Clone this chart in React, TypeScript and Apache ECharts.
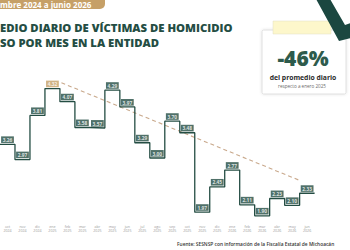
import React, { useEffect, useRef } from "react";
import * as echarts from "echarts";

const months = [
  "oct\n2024", "nov\n2024", "dic\n2024", "ene\n2025", "feb\n2025", "mar\n2025", "abr\n2025",
  "may\n2025", "jun\n2025", "jul\n2025", "ago\n2025", "sep\n2025", "oct\n2025", "nov\n2025",
  "dic\n2025", "ene\n2026", "feb\n2026", "mar\n2026", "abr\n2026", "may\n2026", "jun\n2026",
];
const values = [3.26, 2.97, 3.81, 4.32, 4.07, 3.58, 3.57, 4.29, 3.97, 3.29, 3.0, 3.7, 3.48, 1.97, 2.45, 2.77, 2.11, 1.9, 2.23, 2.1, 2.33];
const highlightIndex = 3; // enero 2025
const trendEndIndex = 20; // junio 2026

const GREEN = "#244d43";
const TAN = "#c6a067";

export default function App() {
  const ref = useRef<HTMLDivElement>(null);
  useEffect(() => {
    if (!ref.current) return;
    const chart = echarts.init(ref.current, null, { renderer: "svg" });
    const stepData = values.flatMap((v, i) => [[i, v], [i + 1, v]]);
    const trendData = [
      [highlightIndex + 1.1, values[highlightIndex] + 0.11],
      [trendEndIndex + 0.03, values[trendEndIndex] + 0.24],
    ];
    const font = "'Open Sans', 'DejaVu Sans', sans-serif";
    chart.setOption({
      animation: false,
      backgroundColor: "#ffffff",
      grid: { left: -1.5, width: 316.1, top: 79.1, height: 142, containLabel: false },
      xAxis: [
        {
          type: "category",
          data: months,
          boundaryGap: true,
          axisLine: { show: false },
          axisTick: { show: false },
          axisLabel: { fontSize: 3.6, color: "#9a9a9a", margin: 3, lineHeight: 4, fontFamily: font },
        },
        { type: "value", min: 0, max: months.length, show: false },
      ],
      yAxis: { type: "value", min: 1.8, max: 4.5, show: false, splitLine: { show: false } },
      series: [
        {
          type: "line",
          xAxisIndex: 1,
          data: trendData,
          symbol: "none",
          lineStyle: { color: "#c9a98c", width: 1.1, type: [4, 3] },
          z: 1,
        },
        {
          type: "line",
          xAxisIndex: 1,
          data: stepData,
          symbol: "none",
          lineStyle: { color: GREEN, width: 1.3 },
          z: 2,
        },
        {
          type: "scatter",
          xAxisIndex: 0,
          symbolSize: 0.1,
          itemStyle: { color: "transparent" },
          data: values.map((v, i) => ({
            value: v,
            label: i === highlightIndex ? { backgroundColor: TAN } : undefined,
          })),
          label: {
            show: true,
            position: "top",
            distance: 1.3,
            formatter: (p: any) => Number(p.value).toFixed(2),
            color: "#ffffff",
            backgroundColor: GREEN,
            fontSize: 4.8,
            fontWeight: "bold",
            fontFamily: font,
            padding: [1, 1.6, 0.6, 1.6],
            lineHeight: 5,
          },
          z: 3,
        },
      ],
      graphic: [
        { type: "rect", shape: { x: -5, y: -5, width: 110, height: 14, r: [0, 0, 5, 0] }, style: { fill: TAN } },
        {
          type: "text", x: 0, y: 4.5,
          style: { text: "mbre 2024 a junio 2026", fill: "#ffffff", font: `bold 8px ${font}`, textVerticalAlign: "middle" },
        },
        {
          type: "text", x: 0, y: 27.5,
          style: { text: "EDIO DIARIO DE VÍCTIMAS DE HOMICIDIO", fill: GREEN, font: `900 11.3px ${font}`, textVerticalAlign: "middle" },
        },
        {
          type: "text", x: 0, y: 42,
          style: { text: "SO POR MES EN LA ENTIDAD", fill: GREEN, font: `900 11.3px ${font}`, textVerticalAlign: "middle" },
        },
        {
          type: "rect", shape: { x: 262, y: 30, width: 84, height: 64, r: 1.5 },
          style: { fill: "#ffffff", stroke: "#d8d8d8", lineWidth: 0.8, shadowBlur: 3, shadowColor: "rgba(0,0,0,0.12)" },
        },
        { type: "rect", shape: { x: 273, y: 21, width: 58, height: 13 }, style: { fill: "#fdf7cb", stroke: "#e2ddc0", lineWidth: 0.5 } },
        {
          type: "polygon",
          shape: { points: [[316, -1], [330, -1], [345, 25], [351, 23], [351, 38], [339, 41]] },
          style: { fill: "#1b4740" },
        },
        {
          type: "text", x: 303, y: 58,
          style: { text: "-46%", fill: "#2e5b4c", font: `900 21px ${font}`, textAlign: "center", textVerticalAlign: "middle" },
        },
        {
          type: "text", x: 303, y: 77.5,
          style: { text: "del promedio diario", fill: "#2a2a2a", font: `bold 6.8px ${font}`, textAlign: "center", textVerticalAlign: "middle" },
        },
        {
          type: "text", x: 302, y: 86,
          style: { text: "respecto a enero 2025", fill: "#6a6a6a", font: `4.6px ${font}`, textAlign: "center", textVerticalAlign: "middle" },
        },
        {
          type: "text", x: 177, y: 243.5,
          style: { text: "Fuente: SESNSP con información de la Fiscalía Estatal de Michoacán", fill: "#333333", font: `600 4.85px ${font}`, textVerticalAlign: "middle" },
        },
      ],
    });
    return () => chart.dispose();
  }, []);
  return <div ref={ref} style={{ position: "fixed", left: 0, top: 0, width: 350, height: 250 }} />;
}
